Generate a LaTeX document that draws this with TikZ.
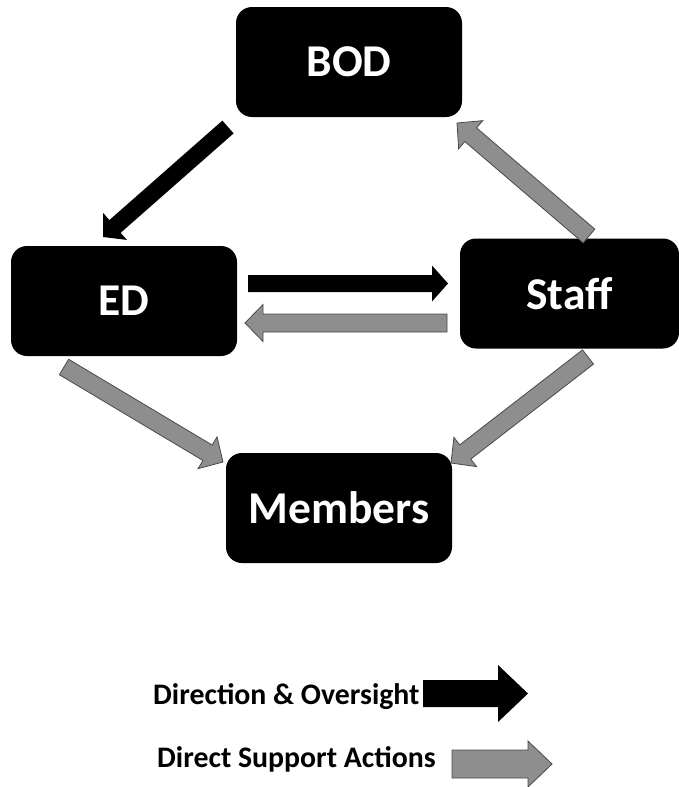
\documentclass[tikz,border=0pt]{standalone}
\usepackage{fontspec}
\setmainfont{Carlito}
\usetikzlibrary{calc}
\definecolor{arrgray}{HTML}{8E8E8E}
\definecolor{arrline}{HTML}{4A4A4A}
\tikzset{
  box/.style={fill=black, rounded corners=16pt, minimum width=226pt, minimum height=110pt,
    inner sep=0pt, text=white, font=\bfseries\fontsize{45.5}{45.5}\selectfont},
  blackarr/.style={fill=black},
  grayarr/.style={fill=arrgray, draw=arrline, line width=0.8pt, line join=miter},
  legtext/.style={anchor=base west, inner sep=0pt, font=\bfseries\fontsize{29.8}{29.8}\selectfont},
}
% #1 style, #2 from, #3 to, #4 shaft half width, #5 head half width, #6 head length
\newcommand{\blockarrow}[6]{%
  \coordinate (hb) at ($(#3)!#6!(#2)$);
  \path[#1] ($(#2)!#4!90:(#3)$) -- ($(hb)!#4!90:(#3)$) -- ($(hb)!#5!90:(#3)$) -- (#3)
    -- ($(hb)!#5!-90:(#3)$) -- ($(hb)!#4!-90:(#3)$) -- ($(#2)!#4!-90:(#3)$) -- cycle;
}
\begin{document}
\begin{tikzpicture}[x=1pt, y=-1pt]
\useasboundingbox (0,0) rectangle (679,787);
\node[box] (bod) at (349,62) {BOD};
\node[box] (ed) at (124,301) {ED};
\node[box, minimum width=219pt] (staff) at (569.5,293.5) {Staff};
\node[box] (mem) at (339,508) {Members};

% arrow end points
\coordinate (a1s) at (228,127);   \coordinate (a1e) at (103,237);
\coordinate (a2s) at (248,283.5); \coordinate (a2e) at (448,283.5);
\coordinate (a3s) at (447,323);   \coordinate (a3e) at (245,323);
\coordinate (a4s) at (589,236);   \coordinate (a4e) at (457,123);
\coordinate (a5s) at (64,367);    \coordinate (a5e) at (223,462);
\coordinate (a6s) at (588,357);   \coordinate (a6e) at (451,463);

\blockarrow{blackarr}{a1s}{a1e}{8.5pt}{18pt}{16pt}
\blockarrow{blackarr}{a2s}{a2e}{8.5pt}{18pt}{16pt}
\blockarrow{grayarr}{a3s}{a3e}{9pt}{18.5pt}{18pt}
\blockarrow{grayarr}{a4s}{a4e}{9pt}{18.5pt}{18pt}
\blockarrow{grayarr}{a5s}{a5e}{9pt}{18.5pt}{18pt}
\blockarrow{grayarr}{a6s}{a6e}{9pt}{18.5pt}{18pt}

% legend
\node[legtext] (leg1) at (153,704) {Direction \& Oversight};
\node[legtext] (leg2) at (157,767) {Direct Support Actions};
\coordinate (l1s) at (423,693.5); \coordinate (l1e) at (528,693.5);
\coordinate (l2s) at (452,764);   \coordinate (l2e) at (552,764);
\blockarrow{blackarr}{l1s}{l1e}{13.5pt}{28.5pt}{30pt}
\blockarrow{grayarr}{l2s}{l2e}{14pt}{23pt}{24pt}
\end{tikzpicture}
\end{document}
